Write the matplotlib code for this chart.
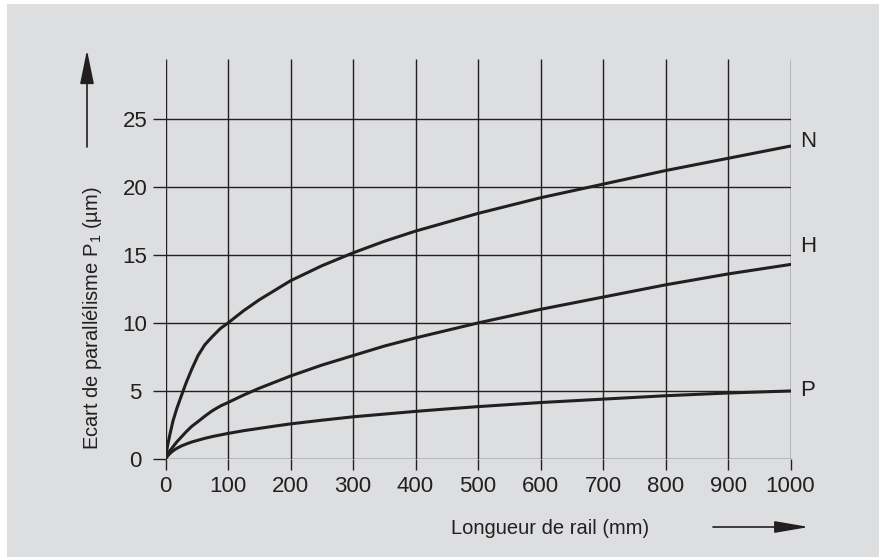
import matplotlib.pyplot as plt
from matplotlib.patches import Rectangle

plt.rcParams['font.family'] = ['Liberation Sans', 'DejaVu Sans']
plt.rcParams['mathtext.fontset'] = 'custom'
plt.rcParams['mathtext.rm'] = 'Liberation Sans'

# values
length_mm = [0, 3, 7, 12, 18, 25, 33, 42, 52, 63, 75, 88, 100, 125, 150, 175,
             200, 250, 300, 350, 400, 450, 500, 600, 700, 800, 900, 1000]
curve_N = [0, 0.9, 1.8, 2.8, 3.7, 4.6, 5.6, 6.6, 7.6, 8.4, 9.0, 9.6, 10.0,
           10.9, 11.7, 12.4, 13.1, 14.2, 15.15, 16.0, 16.75, 17.4, 18.05,
           19.2, 20.2, 21.2, 22.1, 23.0]
curve_H = [0, 0.3, 0.6, 0.9, 1.25, 1.6, 2.0, 2.4, 2.75, 3.15, 3.55, 3.9, 4.15,
           4.7, 5.2, 5.65, 6.1, 6.9, 7.6, 8.3, 8.9, 9.45, 10.0,
           11.0, 11.9, 12.8, 13.6, 14.3]
curve_P = [0, 0.2, 0.4, 0.6, 0.78, 0.95, 1.1, 1.25, 1.38, 1.52, 1.65, 1.77, 1.88,
           2.08, 2.25, 2.42, 2.58, 2.85, 3.1, 3.3, 3.5, 3.68, 3.85,
           4.15, 4.4, 4.65, 4.85, 5.0]
curve_names = ['N', 'H', 'P']
label_y = [23.3, 15.6, 5.0]

x_ticks = list(range(0, 1001, 100))
y_ticks = [0, 5, 10, 15, 20, 25]
y_top = 29.4

ink = '#231f20'
bg = '#dddee0'

fig = plt.figure(figsize=(8.86, 5.57), dpi=100)
fig.patch.set_facecolor('white')
fig.add_artist(Rectangle((7 / 886, 0), 872 / 886, 553 / 557,
                         transform=fig.transFigure, facecolor=bg,
                         edgecolor='none', zorder=-10))

ax = fig.add_axes([165.5 / 886, 1 - 459 / 557, 625 / 886, 400 / 557])
ax.set_facecolor('none')
for s in ax.spines.values():
    s.set_visible(False)
ax.set_xlim(0, 1000)
ax.set_ylim(0, y_top)

# grid
ax.hlines(y_ticks, 0, 1000, color=ink, lw=1.0, zorder=1)
ax.vlines(x_ticks, 0, y_top, color=ink, lw=1.0, zorder=1)

for ys in (curve_N, curve_H, curve_P):
    ax.plot(length_mm, ys, color=ink, lw=2.2, solid_capstyle='round',
            solid_joinstyle='round', zorder=3)

for name, ly in zip(curve_names, label_y):
    ax.text(1016, ly, name, fontsize=16, color=ink, ha='left', va='center')

ax.set_xticks(x_ticks)
ax.set_yticks(y_ticks)
ax.tick_params(axis='x', length=7.9, width=1.0, color=ink, pad=4.0,
               labelsize=16, labelcolor=ink)
ax.tick_params(axis='y', length=9.4, width=1.0, color=ink, pad=12.6,
               labelsize=16, labelcolor=ink)
for lab in ax.get_yticklabels():
    lab.set_ha('center')

# axis titles and arrows
fig.text(550 / 886, 29 / 557, 'Longueur de rail (mm)', fontsize=14.5,
         color=ink, ha='center', va='center')
fig.text(93 / 886, 239 / 557, r'Ecart de parallélisme P$_{\mathrm{1}}$ (µm)',
         fontsize=14.5, color=ink, ha='center', va='center', rotation=90)

ax.annotate('', xy=(87, 507), xytext=(87, 410), xycoords='figure pixels',
            textcoords='figure pixels',
            arrowprops=dict(arrowstyle='-|>,head_length=2.1,head_width=0.43',
                            color=ink, lw=1.2, shrinkA=0, shrinkB=0))
ax.annotate('', xy=(809, 30), xytext=(713, 30), xycoords='figure pixels',
            textcoords='figure pixels',
            arrowprops=dict(arrowstyle='-|>,head_length=2.1,head_width=0.36',
                            color=ink, lw=1.2, shrinkA=0, shrinkB=0))

fig.savefig('out.png', dpi=100)
